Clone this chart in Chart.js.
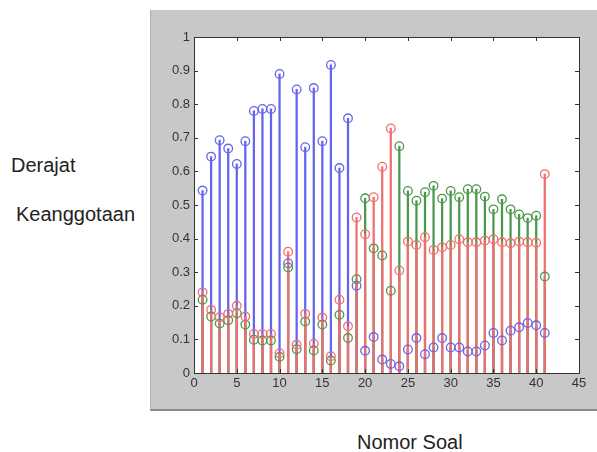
<!DOCTYPE html>
<html lang="en">
<head>
    <meta charset="UTF-8">
    <title>Derajat Keanggotaan</title>
    <style>
        body {
            margin: 0;
            width: 597px;
            height: 452px;
            background: #fff;
            font-family: 'Liberation Sans', Arial, sans-serif;
            position: relative;
            overflow: hidden;
        }
        .panel {
            position: absolute;
            left: 150px;
            top: 10px;
            width: 447px;
            height: 401px;
            background: #c8c8c8;
            border-left: 1px solid #b0b0b0;
            border-bottom: 2px solid #8a8a8a;
            box-sizing: border-box;
        }
        .label {
            position: absolute;
            font-size: 20px;
            color: #222;
            white-space: nowrap;
        }
    </style>
    <script src="https://cdn.jsdelivr.net/npm/chart.js"></script>
</head>
<body>
    <div class="label" style="left:11px; top:154px;">Derajat</div>
    <div class="label" style="left:16px; top:203px;">Keanggotaan</div>
    <div class="label" style="left:357px; top:431px;">Nomor Soal</div>

    <div class="panel">
        <canvas id="stemChart" width="447" height="400"></canvas>
    </div>

    <script>
        // nomor soal 1..41
        const soal = [1, 2, 3, 4, 5, 6, 7, 8, 9, 10, 11, 12, 13, 14, 15, 16, 17, 18, 19, 20,
            21, 22, 23, 24, 25, 26, 27, 28, 29, 30, 31, 32, 33, 34, 35, 36, 37, 38, 39, 40, 41];

        const biru = [0.543, 0.644, 0.693, 0.668, 0.622, 0.69, 0.78, 0.786, 0.786, 0.89,
            0.327, 0.844, 0.672, 0.848, 0.69, 0.917, 0.61, 0.758, 0.26, 0.066,
            0.107, 0.04, 0.027, 0.02, 0.07, 0.104, 0.056, 0.076, 0.104, 0.076,
            0.076, 0.064, 0.064, 0.082, 0.119, 0.097, 0.126, 0.136, 0.149, 0.142, 0.119];

        const merah = [0.24, 0.188, 0.166, 0.176, 0.2, 0.168, 0.116, 0.116, 0.116, 0.059,
            0.361, 0.084, 0.176, 0.087, 0.165, 0.05, 0.218, 0.139, 0.463, 0.413,
            0.523, 0.614, 0.728, 0.305, 0.391, 0.381, 0.404, 0.366, 0.374, 0.381,
            0.398, 0.389, 0.389, 0.394, 0.398, 0.389, 0.386, 0.391, 0.389, 0.388, 0.592];

        const hijau = [0.218, 0.168, 0.147, 0.157, 0.178, 0.144, 0.099, 0.097, 0.097, 0.048,
            0.314, 0.071, 0.153, 0.067, 0.144, 0.037, 0.173, 0.104, 0.279, 0.52,
            0.371, 0.35, 0.245, 0.675, 0.542, 0.513, 0.538, 0.557, 0.519, 0.542,
            0.523, 0.547, 0.547, 0.525, 0.487, 0.517, 0.487, 0.472, 0.461, 0.468, 0.287];

        const xTicks = [0, 5, 10, 15, 20, 25, 30, 35, 40, 45];
        const yTicks = [0, 0.1, 0.2, 0.3, 0.4, 0.5, 0.6, 0.7, 0.8, 0.9, 1];

        const warnaBiru = 'rgb(100, 100, 238)';
        const warnaMerah = 'rgb(240, 110, 110)';
        const warnaHijau = 'rgb(75, 152, 75)';

        function pasang(values) {
            return soal.map((x, i) => ({ x: x, y: values[i] }));
        }

        function batang(values, color, order) {
            return {
                type: 'bar',
                data: pasang(values),
                backgroundColor: color,
                barThickness: 1.6,
                order: order
            };
        }

        function titik(values, color, order) {
            return {
                type: 'scatter',
                data: pasang(values),
                borderColor: color,
                backgroundColor: 'rgba(0,0,0,0)',
                pointRadius: 4.3,
                pointHoverRadius: 4.3,
                borderWidth: 1.3,
                order: order
            };
        }

        // white plot area, black box and inward ticks (MATLAB look)
        const kotak = {
            id: 'kotak',
            beforeDraw(chart) {
                const { ctx, chartArea: a } = chart;
                ctx.save();
                ctx.fillStyle = '#fff';
                ctx.fillRect(a.left, a.top, a.right - a.left, a.bottom - a.top);
                ctx.restore();
            },
            afterDraw(chart) {
                const { ctx, chartArea: a, scales } = chart;
                ctx.save();
                ctx.strokeStyle = '#333';
                ctx.lineWidth = 1;
                ctx.strokeRect(a.left + 0.5, a.top + 0.5, a.right - a.left, a.bottom - a.top);
                const len = 4;
                ctx.beginPath();
                scales.x.ticks.forEach((t, i) => {
                    const px = Math.round(scales.x.getPixelForTick(i)) + 0.5;
                    ctx.moveTo(px, a.bottom); ctx.lineTo(px, a.bottom - len);
                    ctx.moveTo(px, a.top); ctx.lineTo(px, a.top + len);
                });
                scales.y.ticks.forEach((t, i) => {
                    const py = Math.round(scales.y.getPixelForTick(i)) + 0.5;
                    ctx.moveTo(a.left, py); ctx.lineTo(a.left + len, py);
                    ctx.moveTo(a.right, py); ctx.lineTo(a.right - len, py);
                });
                ctx.stroke();
                ctx.restore();
            }
        };

        new Chart(document.getElementById('stemChart'), {
            type: 'bar',
            data: {
                datasets: [
                    batang(biru, warnaBiru, 6),
                    batang(hijau, warnaHijau, 5),
                    batang(merah, warnaMerah, 4),
                    titik(biru, warnaBiru, 3),
                    titik(hijau, warnaHijau, 2),
                    titik(merah, warnaMerah, 1)
                ]
            },
            options: {
                responsive: false,
                animation: false,
                grouped: false,
                layout: { padding: { top: 27, right: 19, left: 0, bottom: 0 } },
                plugins: {
                    legend: { display: false },
                    tooltip: { enabled: false }
                },
                scales: {
                    x: {
                        type: 'linear',
                        min: 0,
                        max: 45,
                        offset: false,
                        afterFit(scale) { scale.height = 37; },
                        afterBuildTicks(scale) { scale.ticks = xTicks.map(v => ({ value: v })); },
                        grid: { display: false, drawTicks: false },
                        border: { display: false },
                        ticks: {
                            padding: 3,
                            color: '#333',
                            font: { family: "'Liberation Sans', Arial", size: 13 }
                        }
                    },
                    y: {
                        min: 0,
                        max: 1,
                        afterFit(scale) { scale.width = 43; },
                        afterBuildTicks(scale) { scale.ticks = yTicks.map(v => ({ value: v })); },
                        grid: { display: false, drawTicks: false },
                        border: { display: false },
                        ticks: {
                            padding: 4,
                            color: '#333',
                            font: { family: "'Liberation Sans', Arial", size: 13 },
                            callback: v => String(Math.round(v * 10) / 10)
                        }
                    }
                }
            },
            plugins: [kotak]
        });
    </script>
</body>
</html>
